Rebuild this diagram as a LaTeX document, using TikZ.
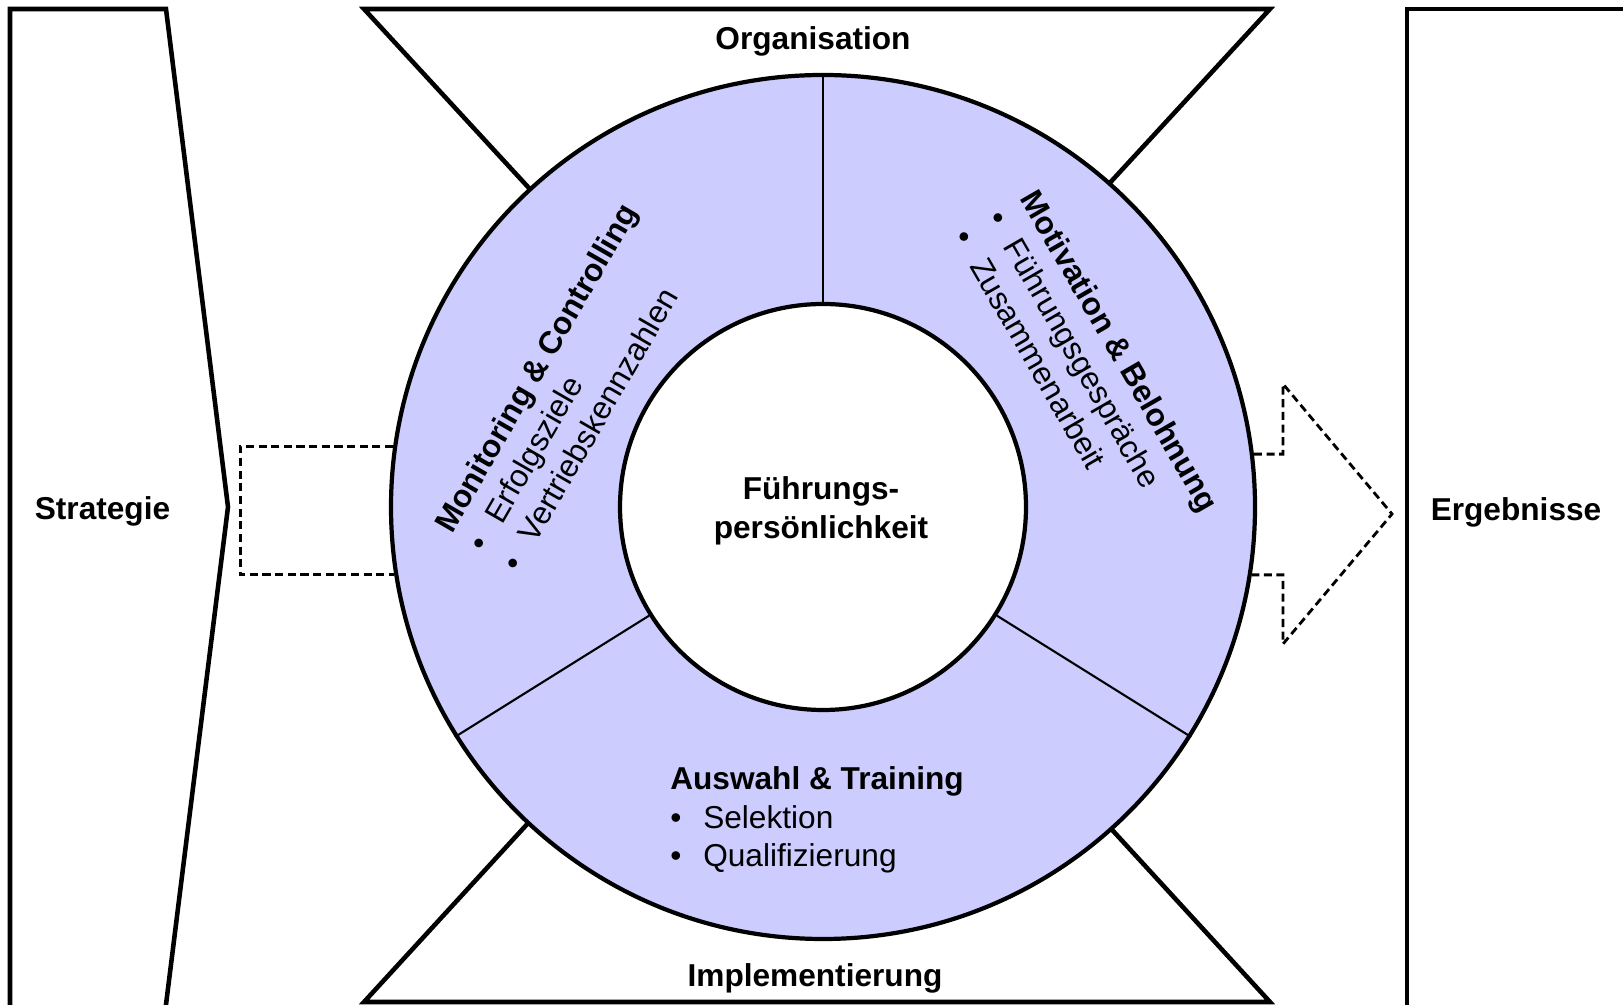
\documentclass[tikz,border=0pt]{standalone}
\usepackage{fontspec}
\setmainfont{Liberation Sans}

\newcommand{\itempoint}[1]{\makebox[3.3mm][l]{\textbullet}#1}

\begin{document}
\begin{tikzpicture}[
    font=\fontsize{9}{11}\selectfont,
    frame/.style={draw, line width=1.3pt, line join=miter},
    divider/.style={draw, line width=0.6pt},
    dashline/.style={draw, line width=0.8pt, dash pattern=on 2.3pt off 1.3pt},
    block/.style={align=left, inner sep=0pt},
    title/.style={font=\fontsize{9}{11}\selectfont\bfseries},
]

\useasboundingbox (0,0) rectangle (16.23,10.05);

% side frames
\draw[frame] (0.10,-0.1) -- (0.10,9.96) -- (1.66,9.96) -- (2.28,4.98) -- (1.647,-0.1);
\draw[frame] (16.4,9.96) -- (14.07,9.96) -- (14.07,-0.1);
\node[title] (strategie) at (1.025,4.94) {Strategie};
\node[title] (ergebnisse) at (15.16,4.93) {Ergebnisse};

% top and bottom trapezoids
\draw[frame, fill=white] (3.64,9.96) -- (12.70,9.96) -- (10.48,7.55) -- (5.86,7.55) -- cycle;
\draw[frame, fill=white] (3.64,0.03) -- (12.70,0.03) -- (10.48,2.45) -- (5.86,2.45) -- cycle;
\node[title] (organisation) at (8.13,9.64) {Organisation};
\node[title] (implementierung) at (8.15,0.27) {Implementierung};

% ring with three sectors
\node[frame, line width=1.2pt, circle, fill=blue!20, minimum size=8.64cm, inner sep=0pt] (ring) at (8.23,4.98) {};
\node[frame, line width=1.2pt, circle, fill=white, minimum size=4.06cm, inner sep=0pt] (core) at (8.23,4.98) {};
\node[title, align=center] (fuehrung) at (8.21,4.94) {Führungs-\\persönlichkeit};
\foreach \a in {90,212,328}
    \draw[divider] (core.\a) -- (ring.\a);

% dashed links
\draw[dashline] (ring.172.3) -- ++(-1.53,0) |- (ring.189.5);
\draw[dashline] (ring.7.7) -| (12.83,6.21) -- (13.92,4.91) -- (12.83,3.61) |- (ring.-9.5);

\node[block, rotate=60] (monitoring) at (5.69,6.18)
    {\textbf{Monitoring \& Controlling}\\\itempoint{Erfolgsziele}\\\itempoint{Vertriebskennzahlen}};
\node[block, rotate=-60] (motivation) at (10.87,6.35)
    {\textbf{Motivation \& Belohnung}\\\itempoint{Führungsgespräche}\\\itempoint{Zusammenarbeit}};
\node[block] (auswahl) at (8.17,1.85)
    {\textbf{Auswahl \& Training}\\\itempoint{Selektion}\\\itempoint{Qualifizierung}};

\end{tikzpicture}
\end{document}
